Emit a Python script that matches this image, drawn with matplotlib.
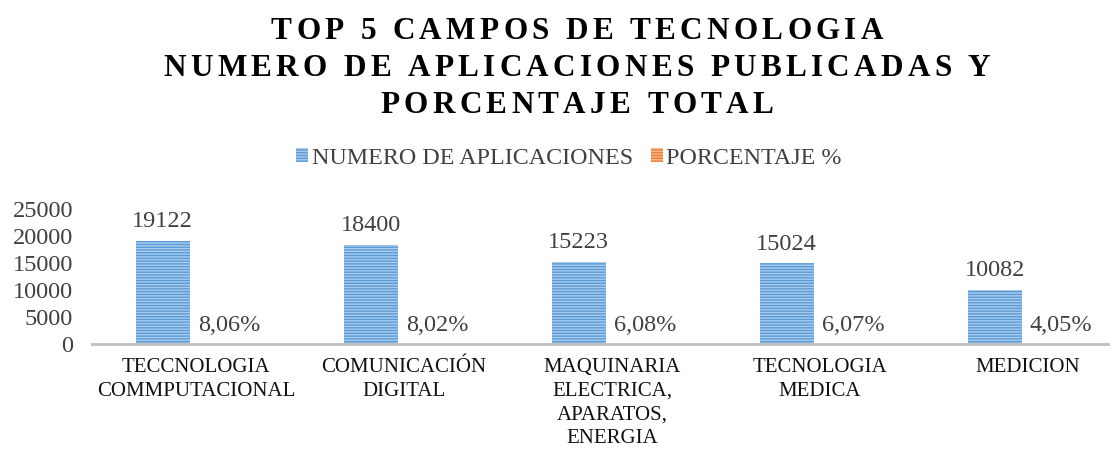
import matplotlib
matplotlib.use("Agg")
import matplotlib.pyplot as plt
from matplotlib.patches import Patch
from matplotlib.font_manager import FontProperties
import numpy as np

categories = ["TECCNOLOGIA\nCOMMPUTACIONAL", "COMUNICACIÓN\nDIGITAL",
              "MAQUINARIA\nELECTRICA,\nAPARATOS,\nENERGIA", "TECNOLOGIA\nMEDICA", "MEDICION"]
aplicaciones = [19122, 18400, 15223, 15024, 10082]
porcentaje = [8.06, 8.02, 6.08, 6.07, 4.05]
pct_labels = ["8,06%", "8,02%", "6,08%", "6,07%", "4,05%"]
title_lines = ["TOP 5 CAMPOS DE TECNOLOGIA",
               "NUMERO DE APLICACIONES PUBLICADAS Y",
               "PORCENTAJE TOTAL"]
series_names = ["NUMERO DE APLICACIONES", "PORCENTAJE %"]
yticks = [0, 5000, 10000, 15000, 20000, 25000]

W, H = 1117, 451
plt.rcParams['font.family'] = ['Liberation Serif', 'DejaVu Serif']
plt.rcParams['hatch.linewidth'] = 1.0
fig = plt.figure(figsize=(W / 100, H / 100), dpi=100)

ax_left, ax_w = 92, 1040
y0, ytop = 344, 209
ax = fig.add_axes([ax_left / W, (H - y0) / H, ax_w / W, (y0 - ytop) / H])

BLUE = "#5B9BD5"
BLUE_H = "#A8CBEE"
ORANGE = "#ED7D31"
ORANGE_H = "#F6B88E"
GRAY_TXT = "#404040"

x = np.arange(len(categories))
bw = 0.26
off = 0.16
ax.bar(x - off, aplicaciones, bw, color=BLUE, edgecolor=BLUE_H, linewidth=0, hatch='------')
ax.bar(x + off, porcentaje, bw, color=ORANGE, edgecolor=ORANGE_H, linewidth=0, hatch='------')

for xi, v in zip(x, aplicaciones):
    ax.annotate(str(v), (xi - off, v), xytext=(0, 6), textcoords='offset points',
                ha='center', va='bottom', fontsize=17.5, color=GRAY_TXT)
for xi, v, lab in zip(x, porcentaje, pct_labels):
    ax.annotate(lab, (xi + off, v), xytext=(0, 6), textcoords='offset points',
                ha='center', va='bottom', fontsize=17.5, color=GRAY_TXT)

ax.set_xlim(-0.5, len(categories) - 0.5)
ax.set_ylim(0, 25000)
ax.set_yticks(yticks)
ax.set_yticklabels([str(t) for t in yticks], fontsize=17.5, color=GRAY_TXT)
ax.set_xticks(x)
ax.set_xticklabels(categories, fontsize=15, color="#111111", linespacing=1.33, va='top')
ax.tick_params(axis='x', length=0, pad=10)
ax.tick_params(axis='y', length=0, pad=13.5)
for s in ['top', 'right', 'left']:
    ax.spines[s].set_visible(False)
ax.spines['bottom'].set_color('#BFBFBF')
ax.spines['bottom'].set_linewidth(2)
# axis line ends near the right edge of the figure
x_end = -0.5 + (1108 - ax_left) / (ax_w / len(categories))
ax.spines['bottom'].set_bounds(-0.5, x_end)

# legend
handles = [Patch(facecolor=BLUE, edgecolor=BLUE_H, linewidth=0, hatch='------'),
           Patch(facecolor=ORANGE, edgecolor=ORANGE_H, linewidth=0, hatch='------')]
leg = fig.legend(handles, series_names, loc='center', bbox_to_anchor=(569 / W, 1 - 158 / H),
                 ncol=2, frameon=False, fontsize=17.3, handlelength=0.5, handleheight=0.5,
                 handletextpad=0.15, columnspacing=0.75, labelcolor=GRAY_TXT)

# title with letter spacing
renderer = fig.canvas.get_renderer()
tfp = FontProperties(family=['Liberation Serif'], weight='bold', size=22.5)

def char_widths(s):
    ws = []
    for ch in s:
        if ch == ' ':
            w = renderer.get_text_width_height_descent('a a', tfp, ismath=False)[0] - \
                2 * renderer.get_text_width_height_descent('a', tfp, ismath=False)[0]
        else:
            w = renderer.get_text_width_height_descent(ch, tfp, ismath=False)[0]
        ws.append(w)
    return ws

target_w = 827
ws2 = char_widths(title_lines[1])
tracking = (target_w - sum(ws2)) / (len(title_lines[1]) - 1)

cx = 577
for line, yc in zip(title_lines, [28, 65, 102]):
    ws = char_widths(line)
    total = sum(ws) + tracking * (len(line) - 1)
    xpos = cx - total / 2
    for ch, w in zip(line, ws):
        if ch != ' ':
            fig.text(xpos / W, 1 - yc / H, ch, fontproperties=tfp, ha='left',
                     va='center_baseline', color='black')
        xpos += w + tracking

fig.savefig("out.png", dpi=100)
